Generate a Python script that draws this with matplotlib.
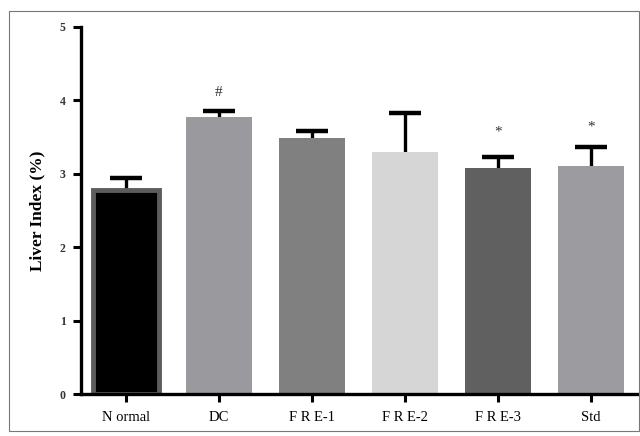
import numpy as np
import matplotlib.pyplot as plt
from matplotlib.patches import Rectangle

# group names and readings
groups = ['N ormal', 'DC', 'F R E-1', 'F R E-2', 'F R E-3', 'Std']
means = [2.78, 3.78, 3.49, 3.30, 3.08, 3.10]
upper = [2.94, 3.86, 3.58, 3.83, 3.23, 3.37]
marks = ['', '#', '', '', '*', '*']
mark_y = [0, 4.11, 0, 0, 3.57, 3.64]

colors = ['black', '#9a9a9e', '#808080', '#d6d6d6', '#606060', '#9c9ca0']
edges = ['#5c5c5c', '#9a9a9e', '#808080', '#d6d6d6', '#606060', '#9c9ca0']

plt.rcParams['font.family'] = ['Liberation Serif', 'DejaVu Serif']

fig = plt.figure(figsize=(6.4, 4.36), dpi=100)
# thin frame round the figure
fig.patches.append(Rectangle((9/640, 1-431/436), 0.999-9/640, (431-11)/436,
                             transform=fig.transFigure, fill=False,
                             edgecolor='#777777', linewidth=0.8))

ax = fig.add_axes([81/640, 1-394/436, 1-81/640, (394-27)/436])

x = np.arange(len(groups))
err = np.array(upper) - np.array(means)
# symmetric bars drawn under the columns so only the upper half shows
ax.errorbar(x, means, yerr=err, fmt='none', ecolor='black',
            elinewidth=2.4, capsize=11.5, capthick=3.2, zorder=1)
lw = [3.5, 0, 0, 0, 0, 0]
ax.bar(x, means, width=0.7, color=colors, edgecolor=edges, linewidth=lw, zorder=2)

for i in range(len(groups)):
    if marks[i]:
        ax.text(x[i], mark_y[i], marks[i], ha='center', va='center', fontsize=11,
                color='#333333')

ax.set_xlim(-0.484, 5.527)
ax.set_ylim(0, 5)
ax.set_yticks([0, 1, 2, 3, 4, 5])
ax.set_xticks(x)
ax.set_xticklabels(groups, fontsize=10.5)
ax.tick_params(axis='y', labelsize=8.5, length=6, width=2.2, pad=5, labelcolor='#333333')
ax.tick_params(axis='x', length=6, width=2.2, pad=6)
for lab in ax.get_yticklabels():
    lab.set_fontweight('bold')

ax.spines['top'].set_visible(False)
ax.spines['right'].set_visible(False)
ax.spines['left'].set_linewidth(2.4)
ax.spines['bottom'].set_linewidth(2.4)

ax.set_ylabel('Liver Index (%)', fontsize=12.5, fontweight='bold', labelpad=10)

fig.savefig('out.png', dpi=100)
